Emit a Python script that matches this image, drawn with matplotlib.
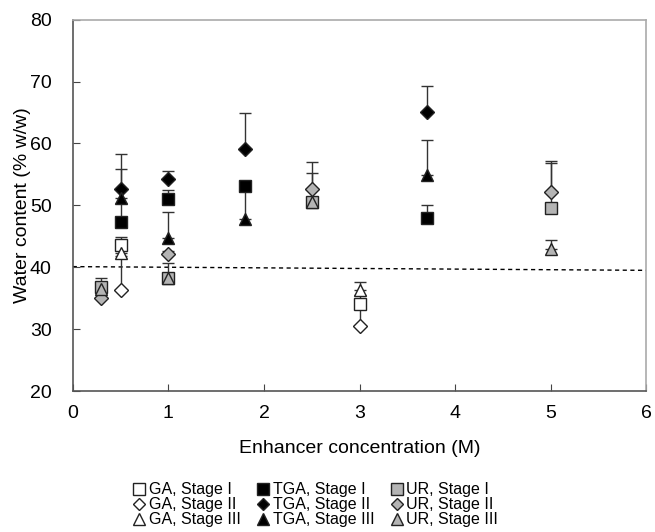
import numpy as np
import matplotlib
matplotlib.use("Agg")
import matplotlib.pyplot as plt

plt.rcParams['font.family'] = ['Liberation Sans', 'DejaVu Sans']

# concentrations (M) for each enhancer
x_ga = [0.5, 3.0]
x_tga = [0.5, 1.0, 1.8, 3.7]
x_ur = [0.3, 1.0, 2.5, 5.0]

# water content (% w/w) and upper error bars
ga_1 = [43.6, 34.0]
ga_1_err = [1.3, 1.5]
ga_2 = [36.3, 30.5]
ga_2_err = [5.5, 3.5]
ga_3 = [42.3, 36.3]
ga_3_err = [1.0, 1.3]

tga_1 = [47.3, 51.0, 53.1, 48.0]
tga_1_err = [3.0, 1.5, 0.5, 2.1]
tga_2 = [52.7, 54.3, 59.1, 65.1]
tga_2_err = [5.6, 1.3, 5.9, 4.2]
tga_3 = [51.2, 44.7, 47.8, 54.9]
tga_3_err = [4.7, 4.2, 5.0, 5.7]

ur_1 = [36.8, 38.2, 50.5, 49.6]
ur_1_err = [1.5, 2.5, 4.7, 7.3]
ur_2 = [35.0, 42.1, 52.7, 52.2]
ur_2_err = [1.0, 0.5, 4.3, 5.0]
ur_3 = [36.5, 38.2, 50.5, 42.9]
ur_3_err = [1.0, 0.5, 0.5, 1.5]

# dashed reference line
ref_x = [0, 6]
ref_y = [40.1, 39.5]

fig = plt.figure(figsize=(6.55, 5.32), dpi=100)
ax = fig.add_axes([0.111, 0.265, 0.876, 0.698])

ax.plot(ref_x, ref_y, '--', color='black', lw=1, dashes=(3, 2.5), zorder=1)

series = [
    (x_ga, ga_1, ga_1_err, 's', 'white', 'GA, Stage I'),
    (x_ga, ga_2, ga_2_err, 'D', 'white', 'GA, Stage II'),
    (x_ga, ga_3, ga_3_err, '^', 'white', 'GA, Stage III'),
    (x_tga, tga_1, tga_1_err, 's', 'black', 'TGA, Stage I'),
    (x_tga, tga_2, tga_2_err, 'D', 'black', 'TGA, Stage II'),
    (x_tga, tga_3, tga_3_err, '^', 'black', 'TGA, Stage III'),
    (x_ur, ur_1, ur_1_err, 's', '#b4b4b4', 'UR, Stage I'),
    (x_ur, ur_2, ur_2_err, 'D', '#b4b4b4', 'UR, Stage II'),
    (x_ur, ur_3, ur_3_err, '^', '#b4b4b4', 'UR, Stage III'),
]

for xs, ys, err, mk, fc, lab in series:
    ax.errorbar(xs, ys, yerr=[np.zeros(len(err)), err], fmt='none',
                ecolor='#333333', elinewidth=1, capsize=4, capthick=1, zorder=2)
for xs, ys, err, mk, fc, lab in series:
    ms = 7 if mk == 'D' else 9
    ax.plot(xs, ys, linestyle='none', marker=mk, ms=ms, mfc=fc,
            mec='#222222', mew=1, label=lab, zorder=3)

ax.set_xlim(0, 6)
ax.set_ylim(20, 80)
ax.set_xticks(range(0, 7))
ax.set_yticks(range(20, 81, 10))
ax.tick_params(direction='in', length=5, labelsize=14, color='#444444')
ax.tick_params(axis='y', pad=15)
ax.tick_params(axis='x', pad=10)
ax.set_xlabel("Enhancer concentration (M)", fontsize=14, labelpad=13)
ax.set_ylabel("Water content (% w/w)", fontsize=14, labelpad=-1)

for s in ['left', 'bottom']:
    ax.spines[s].set_color('#555555')
    ax.spines[s].set_linewidth(1.2)
for s in ['top', 'right']:
    ax.spines[s].set_color('#aaaaaa')
    ax.spines[s].set_linewidth(1.2)

leg = fig.legend(loc='lower center', bbox_to_anchor=(0.483, -0.018), ncol=3,
                 frameon=False, fontsize=11.5, handlelength=0.6,
                 handletextpad=0.3, columnspacing=1.1, labelspacing=0.0,
                 markerscale=0.9)

fig.savefig("out.png", dpi=100)
